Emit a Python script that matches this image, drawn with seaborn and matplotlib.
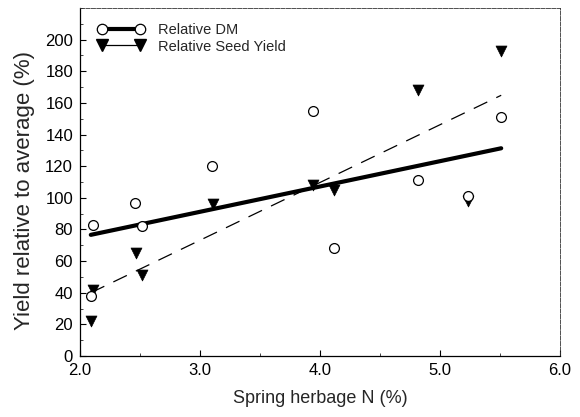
import numpy as np
import pandas as pd
import matplotlib
matplotlib.use("Agg")
import matplotlib.pyplot as plt
from matplotlib.lines import Line2D
from matplotlib.ticker import MultipleLocator, FormatStrFormatter
import seaborn as sns

# ---- data ----
dm_x = [2.09, 2.11, 2.46, 2.52, 3.10, 3.94, 4.12, 4.82, 5.23, 5.51]
dm_y = [38, 83, 97, 82, 120, 155, 68, 111, 101, 151]
seed_x = [2.09, 2.11, 2.47, 2.52, 3.11, 3.94, 4.12, 4.82, 5.23, 5.51]
seed_y = [22, 42, 65, 51, 96, 108, 105, 168, 98, 193]
series_labels = ["Relative DM", "Relative Seed Yield"]
x_ticks = [2.0, 3.0, 4.0, 5.0, 6.0]
y_ticks = [0, 20, 40, 60, 80, 100, 120, 140, 160, 180, 200]

dm = pd.DataFrame({"x": dm_x, "y": dm_y})
seed = pd.DataFrame({"x": seed_x, "y": seed_y})

sns.set_theme(style="ticks")
plt.rcParams["font.family"] = ["Liberation Sans", "DejaVu Sans"]

fig = plt.figure(figsize=(5.8, 4.17), dpi=100)
ax = fig.add_axes([80 / 580, 1 - 356 / 417, 480 / 580, 348 / 417])

sns.regplot(data=seed, x="x", y="y", ax=ax, ci=None, truncate=True,
            marker="v",
            scatter_kws=dict(s=62, color="black", edgecolors="black", linewidths=0.5,
                             alpha=1, zorder=3),
            line_kws=dict(color="black", lw=0.9, linestyle=(0, (12, 8)), zorder=2))
sns.regplot(data=dm, x="x", y="y", ax=ax, ci=None, truncate=True,
            marker="o",
            scatter_kws=dict(s=50, facecolors="white", edgecolors="black", linewidths=0.9,
                             alpha=1, zorder=4),
            line_kws=dict(color="black", lw=3.0, zorder=2))

ax.set_xlim(2.0, 6.0)
ax.set_ylim(0, 220)
ax.set_xticks(x_ticks)
ax.set_yticks(y_ticks)
ax.xaxis.set_major_formatter(FormatStrFormatter("%.1f"))
ax.xaxis.set_minor_locator(MultipleLocator(0.5))
ax.yaxis.set_minor_locator(MultipleLocator(10))
ax.tick_params(which="major", direction="in", length=4, width=0.8, labelsize=12,
               pad=5, colors="black", top=False, right=False)
ax.tick_params(which="minor", direction="in", length=2.5, width=0.6, top=False, right=False)

for side in ["left", "bottom"]:
    ax.spines[side].set_color("black")
    ax.spines[side].set_linewidth(0.9)
for side in ["top", "right"]:
    ax.spines[side].set_visible(True)
    ax.spines[side].set_color("#333333")
    ax.spines[side].set_linewidth(0.6)
    ax.spines[side].set_linestyle((0, (5, 1.5)))

ax.set_xlabel("Spring herbage N (%)", fontsize=13, labelpad=9)
ax.set_ylabel("Yield relative to average (%)", fontsize=16)
ax.yaxis.set_label_coords(-0.093, 0.475)

handles = [
    Line2D([], [], color="black", lw=3.0, marker="o", markersize=7.5,
           markerfacecolor="white", markeredgecolor="black", markeredgewidth=0.9),
    Line2D([], [], color="black", lw=0.9, marker="v", markersize=8,
           markerfacecolor="black", markeredgecolor="black"),
]
ax.legend(handles, series_labels, loc="upper left", bbox_to_anchor=(0.037, 0.957),
          frameon=False, numpoints=2, fontsize=10.5, handlelength=3.2,
          handletextpad=0.9, labelspacing=0.18, borderpad=0, borderaxespad=0)

fig.savefig("out.png", dpi=100)
